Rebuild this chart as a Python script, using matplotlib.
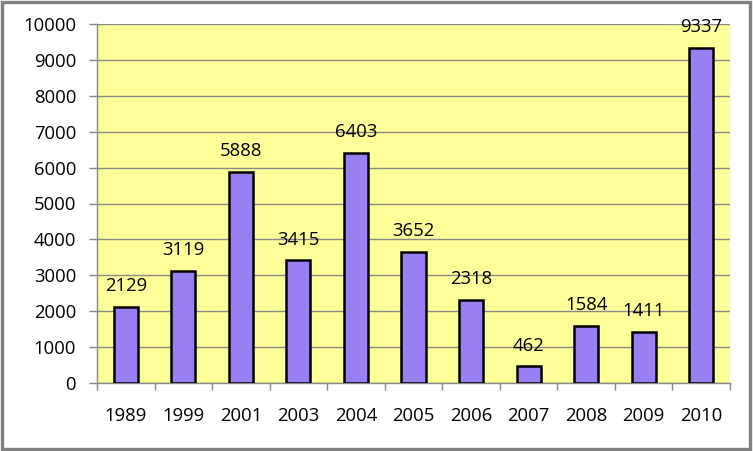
import matplotlib
matplotlib.use("Agg")
import matplotlib.pyplot as plt
from matplotlib.patches import Rectangle
import numpy as np

years = ["1989", "1999", "2001", "2003", "2004", "2005", "2006", "2007", "2008", "2009", "2010"]
values = [2129, 3119, 5888, 3415, 6403, 3652, 2318, 462, 1584, 1411, 9337]
yticks = [0, 1000, 2000, 3000, 4000, 5000, 6000, 7000, 8000, 9000, 10000]

plt.rcParams['font.family'] = ['Open Sans', 'DejaVu Sans']
FS = 13.3

fig = plt.figure(figsize=(7.53, 4.51), dpi=100)
fig.patch.set_facecolor('white')
ax = fig.add_axes([97/753, 1 - 383/451, (730 - 97)/753, (383 - 24)/451])
ax.set_facecolor('#ffff99')

x = np.arange(len(years))
ax.bar(x, values, width=0.42, color='#9a7ff2', edgecolor='black', linewidth=1.8, zorder=3)
for xi, v in zip(x, values):
    ax.text(xi, v + 330, str(v), ha='center', va='bottom', fontsize=FS, color='black', zorder=4)

ax.set_xlim(-0.5, len(years) - 0.5)
ax.set_ylim(0, 10000)
ax.set_yticks(yticks)
ax.set_yticklabels([str(t) for t in yticks], fontsize=FS)
ax.yaxis.grid(True, color='#888888', linewidth=1.0, zorder=1)
ax.set_axisbelow(True)

ax.set_xticks(x)
ax.set_xticklabels(years, fontsize=FS)
ax.tick_params(axis='x', length=0, pad=17)
ax.set_xticks(np.arange(-0.5, len(years)), minor=True)
ax.tick_params(axis='x', which='minor', length=5, color='#888888', width=1)
ax.tick_params(axis='y', length=6, color='#888888', width=1, pad=9)

for s in ['top', 'right']:
    ax.spines[s].set_visible(False)
for s in ['left', 'bottom']:
    ax.spines[s].set_color('#888888')
    ax.spines[s].set_linewidth(1.0)

fig.patches.append(Rectangle((0.002, 0.004), 0.994, 0.992, transform=fig.transFigure,
                             fill=False, edgecolor='#808080', linewidth=2.4))

fig.savefig('out.png', dpi=100)
